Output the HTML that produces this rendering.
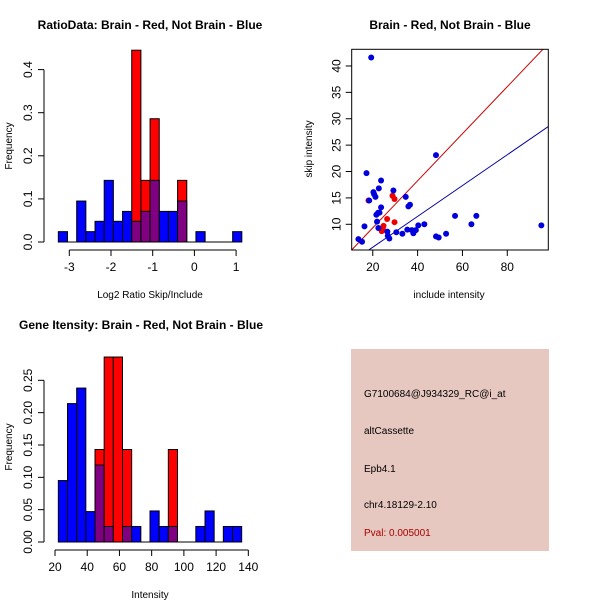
<!DOCTYPE html>
<html><head><meta charset="utf-8"><style>
body{margin:0;background:#fff}
svg{display:block;font-family:"Liberation Sans",sans-serif}
</style></head><body>
<svg id="c" width="600" height="600" viewBox="0 0 600 600"></svg>
<script>
// ---- Panel 1: ratio histogram
const ratioBinStart = -3.263;
const ratioBinWidth = 0.22;
const ratioBlue = [0.024,0,0.095,0.024,0.048,0.143,0.048,0.071,0.048,0.071,0.143,0.071,0.071,0.095,0,0.024,0,0,0,0.024];
const ratioRed  = [0,0,0,0,0,0,0,0,0.445,0.143,0.286,0,0,0.143,0,0,0,0,0,0];
const ratioXTicks = [-3,-2,-1,0,1];
const ratioYTicks = [0,0.1,0.2,0.3,0.4];
const ratioYLabels = ["0.0","0.1","0.2","0.3","0.4"];
// ---- Panel 2: scatter
const blueX = [19.3,13.6,15.2,16.3,17.2,18.4,20.3,20.6,21.2,21.6,21.9,22.4,22.7,23.7,23.7,23.0,22.5,26.5,26.7,27.4,29.2,30.5,33.2,34.7,35.4,35.9,36.6,37.4,38.1,39.2,40.3,43.0,48.2,48.2,49.4,52.7,56.7,64.0,66.2,95.2];
const blueY = [41.6,7.2,6.7,9.6,19.7,14.5,16.1,15.7,15.2,11.8,10.5,12.2,16.8,18.3,13.2,12.2,9.3,8.6,7.8,7.3,16.4,8.5,8.2,15.2,9.0,13.4,13.7,8.9,8.3,8.9,9.8,10.0,23.1,7.7,7.5,8.2,11.6,10.0,11.6,9.8];
const redX = [26.4,24.8,24.5,24.0,28.8,29.7,29.7,18.1];
const redY = [11.0,9.7,9.1,8.7,15.4,14.8,10.4,14.5];
const lineIntercepts = [0.42,-0.18];
const lineSlopes = [0.4457,0.292];
const scatterXTicks = [20,40,60,80];
const scatterYTicks = [10,15,20,25,30,35,40];
// ---- Panel 3: intensity histogram
const intBinStart = 22.07;
const intBinWidth = 5.69;
const intBlue = [0.095,0.214,0.238,0.047,0.119,0.024,0,0.024,0.024,0,0.048,0.024,0.024,0,0,0.024,0.048,0,0.024,0.024];
const intRed  = [0,0,0,0,0.143,0.286,0.286,0.143,0,0,0,0,0.143,0,0,0,0,0,0,0];
const intXTicks = [20,40,60,80,100,120,140];
const intYTicks = [0,0.05,0.1,0.15,0.2,0.25];
const intYLabels = ["0.00","0.05","0.10","0.15","0.20","0.25"];
// ---- Panel 4: info text
const infoLines = ["G7100684@J934329_RC@i_at","altCassette","Epb4.1","chr4.18129-2.10","Pval: 0.005001"];

const svg = document.getElementById('c');
const NS = 'http://www.w3.org/2000/svg';
function mk(tag, attrs, parent){
  const e = document.createElementNS(NS, tag);
  for (const k in attrs) e.setAttribute(k, attrs[k]);
  (parent||svg).appendChild(e);
  return e;
}
function txt(s, x, y, size, extra, parent){
  const t = mk('text', Object.assign({x:x, y:y, 'font-size':size, fill:'#000'}, extra||{}), parent);
  t.textContent = s;
  return t;
}

function histogram(name, g, sx, sy, binStart, binWidth, blue, red, xt, xtl, yt, ytl, axisY, axisX){
  const n = Math.max(blue.length, red.length);
  for (let i=0;i<n;i++){
    const x0 = sx(binStart + i*binWidth), x1 = sx(binStart + (i+1)*binWidth);
    const r = red[i]||0, b = blue[i]||0;
    if (r>0){
      const rr = mk('rect',{x:x0,y:sy(r),width:x1-x0,height:sy(0)-sy(r),fill:'#ff0000',stroke:'#000','stroke-width':1},g);
      
      
    }
    if (b>0){
      const br = mk('rect',{x:x0,y:sy(b),width:x1-x0,height:sy(0)-sy(b),fill:r>0?'#7f0080':'#0000ff',stroke:'#000','stroke-width':1},g);
      
      
    }
  }
  mk('line',{x1:sx(binStart),x2:sx(binStart+n*binWidth),y1:sy(0),y2:sy(0),stroke:'#000'},g);
  const xa = mk('g',{},g);
  
  
  mk('line',{x1:sx(xt[0]),x2:sx(xt[xt.length-1]),y1:axisY,y2:axisY,stroke:'#000'},xa);
  xt.forEach((v,i)=>{
    mk('line',{x1:sx(v),x2:sx(v),y1:axisY,y2:axisY+6,stroke:'#000'},xa);
    txt(xtl[i], sx(v), axisY+21, 12, {'text-anchor':'middle'}, xa);
  });
  const ya = mk('g',{},g);
  
  
  mk('line',{x1:axisX,x2:axisX,y1:sy(yt[0]),y2:sy(yt[yt.length-1]),stroke:'#000'},ya);
  yt.forEach((v,i)=>{
    mk('line',{x1:axisX-6,x2:axisX,y1:sy(v),y2:sy(v),stroke:'#000'},ya);
    txt(ytl[i], axisX-12, sy(v), 12, {'text-anchor':'middle',transform:`rotate(-90 ${axisX-12} ${sy(v)})`}, ya);
  });
}

// Panel 1
{
  const g = mk('g',{});
  
  
  const sx = v => 69.3 + (v+3)*41.7;
  const sy = v => 242 - v*431;
  histogram('ratio', g, sx, sy, ratioBinStart, ratioBinWidth, ratioBlue, ratioRed, ratioXTicks, ratioXTicks.map(String), ratioYTicks, ratioYLabels, 250, 44);
  const t = txt('RatioData: Brain - Red, Not Brain - Blue',150,29,12,{'text-anchor':'middle','font-weight':'bold'},g);
   
  const xl = txt('Log2 Ratio Skip/Include',150,298,10,{'text-anchor':'middle'},g);
   
  const yl = txt('Frequency',12,146,10,{'text-anchor':'middle',transform:'rotate(-90 12 146)'},g);
   
}

// Panel 2
{
  const g = mk('g',{});
  
  
  const X0=10.6, X1=98.3, Y0=5.13, Y1=43.16;
  const L=351.7, R=548.3, T=49.3, B=250;
  const sx = v => L + (v-X0)/(X1-X0)*(R-L);
  const sy = v => B - (v-Y0)/(Y1-Y0)*(B-T);
  const defs = mk('defs',{},g);
  const cp = mk('clipPath',{id:'clipS'},defs);
  mk('rect',{x:L,y:T,width:R-L,height:B-T},cp);
  const cols = ['#cc0000','#000099'];
  lineIntercepts.forEach((a,i)=>{
    const b = lineSlopes[i];
    const ln = mk('line',{x1:sx(X0),y1:sy(a+b*X0),x2:sx(X1),y2:sy(a+b*X1),stroke:cols[i],'stroke-width':1,'clip-path':'url(#clipS)'},g);
    
    
  });
  redX.forEach((x,i)=>{
    const c = mk('circle',{cx:sx(x),cy:sy(redY[i]),r:3,fill:'#ee0000'},g);
    
    
  });
  blueX.forEach((x,i)=>{
    const c = mk('circle',{cx:sx(x),cy:sy(blueY[i]),r:3,fill:'#0000dd'},g);
    
    
  });
  const box = mk('rect',{x:L,y:T,width:R-L,height:B-T,fill:'none',stroke:'#000'},g);
   
  const xa = mk('g',{},g);
   
  scatterXTicks.forEach(v=>{
    mk('line',{x1:sx(v),x2:sx(v),y1:B,y2:B+6,stroke:'#000'},xa);
    txt(String(v), sx(v), B+21, 12, {'text-anchor':'middle'}, xa);
  });
  const ya = mk('g',{},g);
   
  scatterYTicks.forEach(v=>{
    mk('line',{x1:L-6,x2:L,y1:sy(v),y2:sy(v),stroke:'#000'},ya);
    txt(String(v), L-11, sy(v), 12, {'text-anchor':'middle',transform:`rotate(-90 ${L-11} ${sy(v)})`}, ya);
  });
  const t = txt('Brain - Red, Not Brain - Blue',450,29,12,{'text-anchor':'middle','font-weight':'bold'},g);
   
  const xl = txt('include intensity',449,298,10,{'text-anchor':'middle'},g);
   
  const yl = txt('skip intensity',312,149,10,{'text-anchor':'middle',transform:'rotate(-90 312 149)'},g);
   
}

// Panel 3
{
  const g = mk('g',{});
  
  
  const sx = v => 55 + (v-20)*1.611;
  const sy = v => 542 - v*646.7;
  histogram('intensity', g, sx, sy, intBinStart, intBinWidth, intBlue, intRed, intXTicks, intXTicks.map(String), intYTicks, intYLabels, 550, 44);
  const t = txt('Gene Itensity: Brain - Red, Not Brain - Blue',141,329,12,{'text-anchor':'middle','font-weight':'bold'},g);
   
  const xl = txt('Intensity',150,598,10,{'text-anchor':'middle'},g);
   
  const yl = txt('Frequency',12,447,10,{'text-anchor':'middle',transform:'rotate(-90 12 447)'},g);
   
}

// Panel 4
{
  const g = mk('g',{});
  
  
  mk('rect',{x:351,y:349,width:198,height:202,fill:'#e6c8c0'},g);
  const ys = [397,434,472,508,536];
  infoLines.forEach((s,i)=>{
    const t = txt(s, 364, ys[i], 10, {fill: i===4?'#aa0000':'#000'}, g);
    
    
  });
}
</script>
</body></html>
